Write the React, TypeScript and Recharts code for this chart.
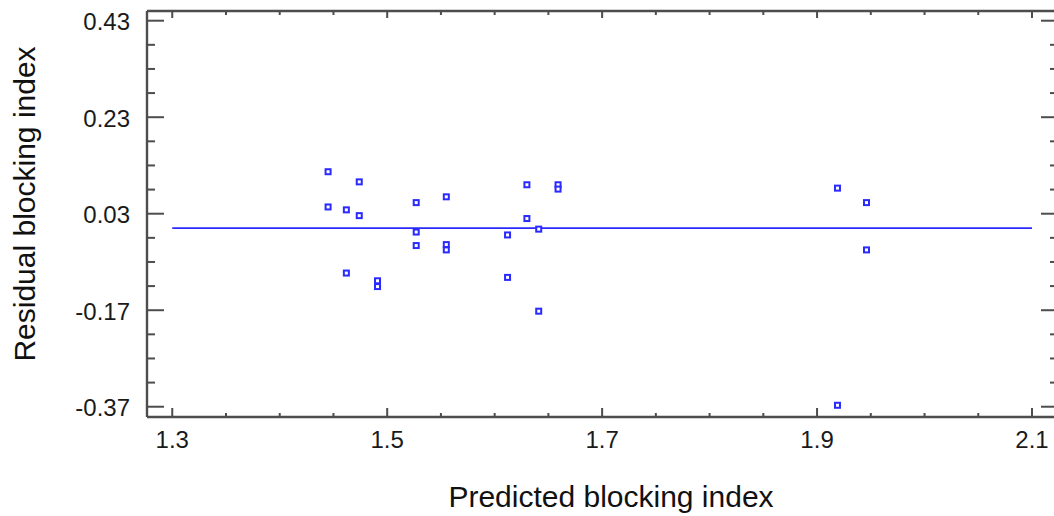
import React from "react";
import { ScatterChart, Scatter, XAxis, YAxis, Label } from "recharts";

// Predicted vs. residual blocking index, one entry per observation
const predicted = [
  1.445, 1.474, 1.445, 1.462, 1.474, 1.527, 1.555, 1.630, 1.659, 1.659, 1.630, 1.641, 1.612,
  1.527, 1.527, 1.555, 1.555, 1.462, 1.491, 1.491, 1.612, 1.641, 1.919, 1.946, 1.946, 1.919,
];
const residual = [
  0.117, 0.096, 0.044, 0.038, 0.026, 0.053, 0.065, 0.090, 0.090, 0.081, 0.020, -0.002, -0.014,
  -0.008, -0.036, -0.034, -0.045, -0.093, -0.109, -0.121, -0.102, -0.172, 0.083, 0.053, -0.045,
  -0.367,
];

// Zero-residual reference line
const fitX = [1.3, 2.1];
const fitY = [0, 0];

// Axis ticks (major ones carry labels)
const xMajor = [1.3, 1.5, 1.7, 1.9, 2.1];
const xMinor = [1.35, 1.4, 1.45, 1.55, 1.6, 1.65, 1.75, 1.8, 1.85, 1.95, 2.0, 2.05];
const yMajor = [-0.37, -0.17, 0.03, 0.23, 0.43];
const yMinor = [-0.32, -0.27, -0.22, -0.12, -0.07, -0.02, 0.08, 0.13, 0.18, 0.28, 0.33, 0.38];

const xDomain: [number, number] = [1.2765, 2.1242];
const yDomain: [number, number] = [-0.3913, 0.4501];

const points = predicted.map((x, i) => ({ x, y: residual[i] }));
const fitData = fitX.map((x, i) => ({ x, y: fitY[i] }));

const FONT = "Arial, 'Liberation Sans', Helvetica, sans-serif";
const FRAME = "#4d4d4d";
const BLUE = "#2a2aff";

const isMajor = (v: number, list: number[]) => list.some((m) => Math.abs(m - v) < 1e-9);

const BottomTick = (props: any) => {
  const { x, y, payload } = props;
  const major = isMajor(payload.value, xMajor);
  return (
    <g>
      <line x1={x} x2={x} y1={y} y2={y - (major ? 9 : 4)} stroke={FRAME} strokeWidth={2} />
      {major && (
        <text x={x} y={y + 31} textAnchor="middle" fontSize={24} fontFamily={FONT} fill="#1a1a1a">
          {payload.value.toFixed(1)}
        </text>
      )}
    </g>
  );
};

const TopTick = (props: any) => {
  const { x, y, payload } = props;
  const major = isMajor(payload.value, xMajor);
  return <line x1={x} x2={x} y1={y} y2={y + (major ? 7 : 4)} stroke={FRAME} strokeWidth={2} />;
};

const LeftTick = (props: any) => {
  const { x, y, payload } = props;
  const major = isMajor(payload.value, yMajor);
  return (
    <g>
      <line x1={x} x2={x + (major ? 17 : 8)} y1={y} y2={y} stroke={FRAME} strokeWidth={2} />
      {major && (
        <text x={x - 17} y={y + 9.5} textAnchor="end" fontSize={24} fontFamily={FONT} fill="#1a1a1a">
          {payload.value.toFixed(2)}
        </text>
      )}
    </g>
  );
};

const RightTick = (props: any) => {
  const { x, y, payload } = props;
  const major = isMajor(payload.value, yMajor);
  return <line x1={x} x2={x - (major ? 17 : 8)} y1={y} y2={y} stroke={FRAME} strokeWidth={2} />;
};

const SquareMarker = (props: any) => {
  const { cx, cy } = props;
  return (
    <rect x={cx - 2.5} y={cy - 2.5} width={5} height={5} fill="#ffffff" stroke={BLUE} strokeWidth={2} />
  );
};

const NoMarker = () => <g />;

const axisLine = { stroke: FRAME, strokeWidth: 2.4 };

export default function App() {
  return (
    <div style={{ position: "absolute", left: 0, top: 0, width: 1054, height: 516, overflow: "hidden", background: "#fff" }}>
      <ScatterChart width={1060} height={516} margin={{ top: 10, right: 1, bottom: 0, left: 0 }}>
        <XAxis
          xAxisId="bottom"
          dataKey="x"
          type="number"
          orientation="bottom"
          domain={xDomain}
          allowDataOverflow
          ticks={[...xMajor, ...xMinor]}
          interval={0}
          tickSize={0}
          tickMargin={0}
          tick={<BottomTick />}
          axisLine={axisLine}
          height={99}
        >
          <Label
            content={() => (
              <text x={611} y={507} textAnchor="middle" fontSize={30} fontFamily={FONT} fill="#111">
                Predicted blocking index
              </text>
            )}
          />
        </XAxis>
        <XAxis
          xAxisId="top"
          dataKey="x"
          type="number"
          orientation="top"
          domain={xDomain}
          allowDataOverflow
          ticks={[...xMajor, ...xMinor]}
          interval={0}
          tickSize={0}
          tickMargin={0}
          tick={<TopTick />}
          axisLine={axisLine}
          height={1}
        />
        <YAxis
          yAxisId="left"
          dataKey="y"
          type="number"
          orientation="left"
          domain={yDomain}
          allowDataOverflow
          ticks={[...yMajor, ...yMinor]}
          interval={0}
          tickSize={0}
          tickMargin={0}
          tick={<LeftTick />}
          axisLine={axisLine}
          width={147}
        >
          <Label
            content={() => (
              <text
                x={35}
                y={204}
                transform="rotate(-90, 35, 204)"
                textAnchor="middle"
                fontSize={30}
                fontFamily={FONT}
                fill="#111"
              >
                Residual blocking index
              </text>
            )}
          />
        </YAxis>
        <YAxis
          yAxisId="right"
          dataKey="y"
          type="number"
          orientation="right"
          domain={yDomain}
          allowDataOverflow
          ticks={[...yMajor, ...yMinor]}
          interval={0}
          tickSize={0}
          tickMargin={0}
          tick={<RightTick />}
          axisLine={axisLine}
          width={1}
        />
        <Scatter
          xAxisId="bottom"
          yAxisId="left"
          data={fitData}
          line={{ stroke: BLUE, strokeWidth: 1.8 }}
          shape={<NoMarker />}
          legendType="none"
          isAnimationActive={false}
        />
        <Scatter
          xAxisId="bottom"
          yAxisId="left"
          data={points}
          shape={<SquareMarker />}
          isAnimationActive={false}
        />
      </ScatterChart>
    </div>
  );
}
